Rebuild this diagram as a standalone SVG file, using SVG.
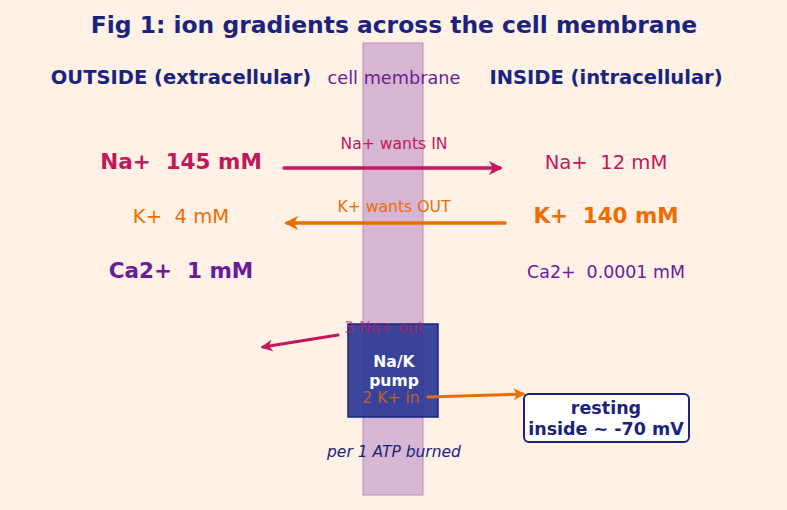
<svg xmlns="http://www.w3.org/2000/svg" width="787" height="510" viewBox="0 0 787 510">
<style>
text{font-family:"DejaVu Sans","Liberation Sans",sans-serif;text-anchor:middle;white-space:pre}
.b{font-weight:bold}
.na{fill:#c2185b}.k{fill:#ef6c00}.ca{fill:#6a1b9a}.nv{fill:#1a237e}
</style>
<defs>
<marker id="ana" viewBox="0 0 10 10" refX="8" refY="5" markerWidth="4" markerHeight="4" orient="auto"><path d="M0,0 L10,5 L0,10 L3,5 z" fill="#c2185b"/></marker>
<marker id="ak" viewBox="0 0 10 10" refX="8" refY="5" markerWidth="4" markerHeight="4" orient="auto"><path d="M0,0 L10,5 L0,10 L3,5 z" fill="#ef6c00"/></marker>
</defs>
<rect width="787" height="510" fill="#fff1e6"/>
<text x="394" y="33" class="b nv" font-size="23.4">Fig 1: ion gradients across the cell membrane</text>
<g id="membrane"><rect x="363" y="43" width="60" height="452" fill="#d6b6d3" stroke="#b98db8" stroke-width="1"/></g>
<text x="181" y="84" class="b nv" font-size="19.5">OUTSIDE (extracellular)</text>
<text x="394" y="84" class="ca" font-size="17.7">cell membrane</text>
<text x="606" y="84" class="b nv" font-size="19.5">INSIDE (intracellular)</text>
<g id="outside">
<text x="181" y="169" class="b na" font-size="21.5">Na+  145 mM</text>
<text x="181" y="223" class="k" font-size="19.6">K+  4 mM</text>
<text x="181" y="278" class="b ca" font-size="21.5">Ca2+  1 mM</text>
</g>
<g id="inside">
<text x="606" y="169" class="na" font-size="19.6">Na+  12 mM</text>
<text x="606" y="223" class="b k" font-size="21.4">K+  140 mM</text>
<text x="606" y="278" class="ca" font-size="17.4">Ca2+  0.0001 mM</text>
</g>
<text x="394" y="149" class="na" font-size="15.6">Na+ wants IN</text>
<text x="394" y="212" class="k" font-size="15.6">K+ wants OUT</text>
<g id="pump">
<rect x="348" y="324" width="90" height="93" fill="#283593" fill-opacity="0.9" stroke="#1a237e" stroke-width="1.5"/>
<text x="384" y="333" class="na" font-size="15.6" fill-opacity="0.7">3 Na+ out</text>
<text x="391" y="403" class="k" font-size="15.6" fill-opacity="0.75">2 K+ in</text>
<text x="394" y="367" class="b" fill="#fff" font-size="15.6">Na/K</text>
<text x="394" y="386" class="b" fill="#fff" font-size="15.6">pump</text>
</g>
<text x="394" y="457" class="nv" font-size="15.5" font-style="italic">per 1 ATP burned</text>
<g id="resting">
<rect x="524" y="394" width="165" height="48" rx="5" fill="#fff" stroke="#1a237e" stroke-width="2"/>
<text x="606" y="414" class="b nv" font-size="17.5">resting</text>
<text x="606" y="435" class="b nv" font-size="17.5">inside ~ -70 mV</text>
</g>
<g id="connectors" fill="none" stroke-width="3.5" stroke-linecap="round">
<line x1="284" y1="168" x2="500" y2="168" stroke="#c2185b" marker-end="url(#ana)"/>
<line x1="505" y1="223" x2="287" y2="223" stroke="#ef6c00" marker-end="url(#ak)"/>
<line x1="338" y1="335" x2="263" y2="347" stroke="#c2185b" stroke-width="3" marker-end="url(#ana)"/>
<line x1="428" y1="397" x2="523" y2="394" stroke="#ef6c00" stroke-width="3" marker-end="url(#ak)"/>
</g>
</svg>
